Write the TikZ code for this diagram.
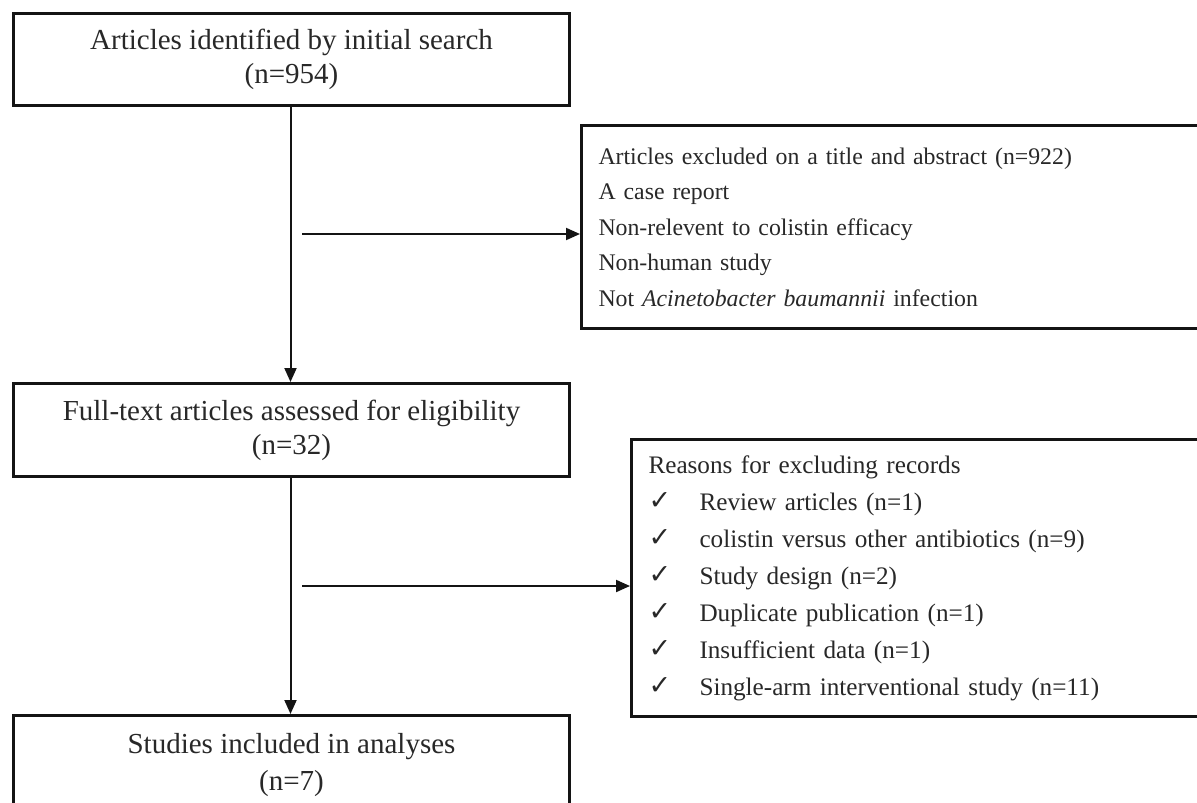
\documentclass[tikz,border=0pt]{standalone}
\usepackage{fontspec}
\setmainfont{Liberation Serif}
\newfontfamily\checkfont{DejaVu Sans}
\usetikzlibrary{arrows.meta}
\definecolor{txt}{RGB}{40,40,40}
\definecolor{lin}{RGB}{20,20,20}
\newcommand{\chk}[1]{\makebox[51pt][l]{\raisebox{1pt}{\checkfont\fontsize{27}{27}\selectfont ✓}}#1}
\tikzset{
  box/.style={draw=lin, line width=3pt, rectangle, text=txt},
  mainbox/.style={box, font=\fontsize{29}{34}\selectfont, minimum width=556pt, align=center, inner sep=0pt},
  sidebox/.style={box, align=left, anchor=north west, inner xsep=17pt, inner ysep=0pt, text width=640pt},
  arr/.style={draw=lin, line width=2pt, -{Triangle[length=14pt,width=12pt]}}
}
\begin{document}
\begin{tikzpicture}[x=1pt,y=-1pt]
\useasboundingbox (0,0) rectangle (1197,803);
\clip (0,0) rectangle (1197,803);
\fill[white] (0,0) rectangle (1197,803);

\node[mainbox, minimum height=92pt, anchor=north west] (b1) at (12,12)
  {Articles identified by initial search\\(n=954)};

\node[sidebox, minimum height=203pt, font=\fontsize{23.8}{35.5}\selectfont] (b2) at (580,124)
  {Articles excluded on a title and abstract (n=922)\\
   A case report\\
   Non-relevent to colistin efficacy\\
   Non-human study\\
   Not \textit{Acinetobacter baumannii} infection};

\node[mainbox, minimum height=93pt, anchor=north west] (b3) at (12,382)
  {\raisebox{-5pt}{Full-text articles assessed for eligibility}\\\raisebox{-5pt}{(n=32)}};

\node[sidebox, minimum height=277pt, font=\fontsize{25.2}{37}\selectfont] (b4) at (630,438)
  {Reasons for excluding records\\
   \chk{Review articles (n=1)}\\
   \chk{colistin versus other antibiotics (n=9)}\\
   \chk{Study design (n=2)}\\
   \chk{Duplicate publication (n=1)}\\
   \chk{Insufficient data (n=1)}\\
   \chk{Single-arm interventional study (n=11)}};

\node[mainbox, font=\fontsize{29}{37}\selectfont, anchor=north west, inner ysep=18pt] (b5) at (12,714)
  {Studies included in analyses\\(n=7)};

\coordinate (h1) at (302,234);
\coordinate (h2) at (302,586);
\draw[arr] ([xshift=-1pt]b1.south) -- ([xshift=-1pt]b3.north);
\draw[arr] ([xshift=-1pt]b3.south) -- ([xshift=-1pt]b5.north);
\draw[arr] (h1) -- (h1 -| b2.west);
\draw[arr] (h2) -- (h2 -| b4.west);
\end{tikzpicture}
\end{document}
